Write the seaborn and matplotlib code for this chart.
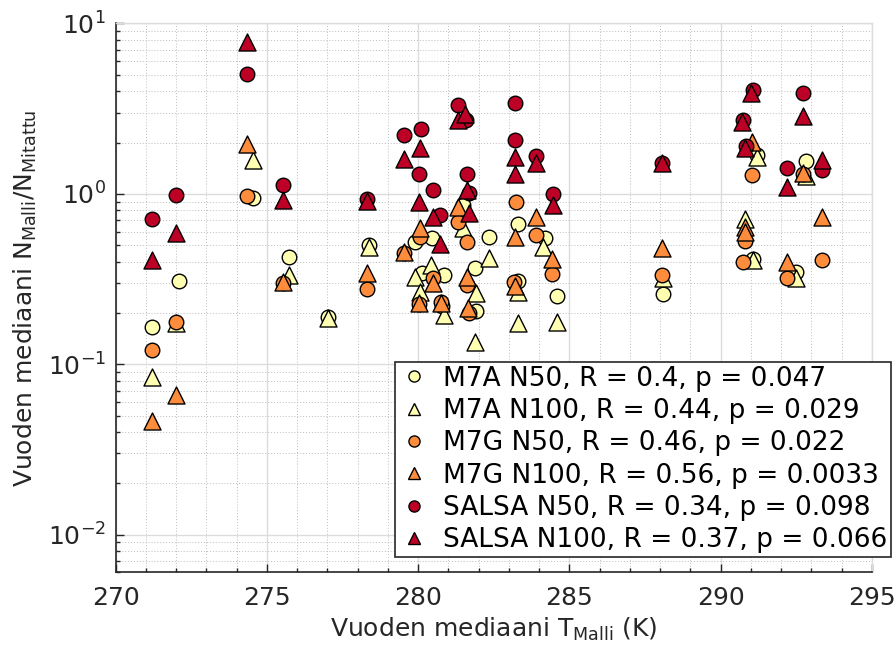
import numpy as np
import pandas as pd
import matplotlib
matplotlib.use("Agg")
import matplotlib.pyplot as plt
from matplotlib.lines import Line2D
from matplotlib.ticker import MultipleLocator, LogLocator, NullFormatter
import seaborn as sns

# --- yearly medians: model temperature (K) and model/measured number ratio ---
m7a_n50_T = [271.22, 272.10, 274.55, 275.74, 277.03, 278.39, 279.90, 280.45, 280.12, 280.86,
             280.80, 281.50, 282.36, 281.88, 281.91, 283.31, 283.30, 284.20, 284.60, 288.10,
             291.08, 292.50, 292.83, 291.20]
m7a_n50_R = [0.165, 0.308, 0.95, 0.428, 0.19, 0.50, 0.524, 0.55, 0.341, 0.334,
             0.22, 0.86, 0.56, 0.366, 0.205, 0.665, 0.307, 0.548, 0.252, 0.257,
             0.413, 0.349, 1.56, 1.70]

m7a_n100_T = [271.22, 272.00, 274.55, 275.74, 277.03, 278.39, 279.90, 280.43, 280.06, 280.85,
              281.49, 282.36, 281.91, 281.88, 283.31, 283.31, 284.14, 284.60, 288.10, 290.81,
              291.08, 291.20, 292.50, 292.83]
m7a_n100_R = [0.0846, 0.175, 1.59, 0.334, 0.186, 0.49, 0.327, 0.383, 0.267, 0.195,
              0.63, 0.418, 0.262, 0.136, 0.174, 0.267, 0.49, 0.178, 0.32, 0.708,
              0.41, 1.65, 0.32, 1.27]

m7g_n50_T = [271.22, 271.99, 274.35, 275.54, 278.30, 279.53, 280.06, 280.04, 280.48, 280.75,
             281.33, 281.63, 281.63, 281.69, 283.24, 283.17, 283.90, 284.42, 288.06, 290.75,
             290.80, 291.05, 292.21, 293.35, 292.72]
m7g_n50_R = [0.122, 0.178, 0.97, 0.298, 0.275, 0.45, 0.56, 0.225, 0.319, 0.232,
             0.686, 0.524, 0.29, 0.199, 0.89, 0.305, 0.573, 0.337, 0.334, 0.40,
             0.529, 1.29, 0.32, 0.409, 1.30]

m7g_n100_T = [271.22, 271.99, 274.35, 275.54, 278.30, 279.53, 280.06, 280.04, 280.48, 280.75,
              281.33, 281.63, 281.66, 283.20, 283.20, 283.90, 284.42, 288.06, 290.80, 290.80,
              291.05, 292.21, 292.72, 293.35]
m7g_n100_R = [0.0467, 0.066, 1.96, 0.305, 0.344, 0.457, 0.628, 0.228, 0.298, 0.228,
              0.84, 0.327, 0.215, 0.56, 0.288, 0.734, 0.413, 0.483, 0.641, 0.60,
              2.02, 0.40, 1.32, 0.734]

salsa_n50_T = [271.22, 271.99, 274.35, 275.54, 278.30, 279.53, 280.09, 280.04, 280.50, 280.72,
               281.33, 281.60, 281.63, 281.70, 283.20, 283.20, 283.90, 284.45, 288.06, 291.08,
               290.75, 290.85, 292.21, 292.72, 293.35]
salsa_n50_R = [0.708, 0.99, 5.02, 1.13, 0.93, 2.21, 2.39, 1.31, 1.06, 0.75,
               3.32, 2.70, 1.30, 1.01, 3.42, 2.07, 1.67, 1.00, 1.51, 4.06,
               2.71, 1.91, 1.41, 3.92, 1.38]

salsa_n100_T = [271.22, 271.99, 274.35, 275.54, 278.30, 279.53, 280.06, 280.04, 280.50, 280.72,
                281.33, 281.55, 281.61, 281.69, 283.20, 283.20, 283.90, 284.45, 288.06, 291.02,
                290.72, 290.80, 292.21, 292.72, 293.35]
salsa_n100_R = [0.409, 0.587, 7.8, 0.92, 0.91, 1.60, 1.85, 0.90, 0.734, 0.51,
                2.71, 2.95, 1.05, 0.769, 1.64, 1.31, 1.51, 0.86, 1.51, 3.90,
                2.65, 1.87, 1.10, 2.86, 1.59]

series_labels = [
    "M7A N50, R = 0.4, p = 0.047",
    "M7A N100, R = 0.44, p = 0.029",
    "M7G N50, R = 0.46, p = 0.022",
    "M7G N100, R = 0.56, p = 0.0033",
    "SALSA N50, R = 0.34, p = 0.098",
    "SALSA N100, R = 0.37, p = 0.066",
]
series_T = [m7a_n50_T, m7a_n100_T, m7g_n50_T, m7g_n100_T, salsa_n50_T, salsa_n100_T]
series_R = [m7a_n50_R, m7a_n100_R, m7g_n50_R, m7g_n100_R, salsa_n50_R, salsa_n100_R]

YELLOW, ORANGE, RED = "#ffffb2", "#fd8d3c", "#bd0026"
series_colors = [YELLOW, YELLOW, ORANGE, ORANGE, RED, RED]
series_markers = ["o", "^", "o", "^", "o", "^"]
marker_area = {"o": 110, "^": 150}

sns.set_style("ticks")
plt.rcParams["font.family"] = ["DejaVu Sans"]
plt.rcParams["mathtext.fontset"] = "dejavusans"
INK = "#262626"

fig = plt.figure(figsize=(8.96, 6.52), dpi=100)
ax = fig.add_axes([0.129, 0.122, 0.844, 0.842])

# one layer per series, in legend order, so later series sit on top
for lab, t, r, c, m in zip(series_labels, series_T, series_R, series_colors, series_markers):
    d = pd.DataFrame({"T": t, "ratio": r})
    sns.scatterplot(data=d, x="T", y="ratio", color=c, marker=m, s=marker_area[m],
                    edgecolor="black", linewidth=1.0, ax=ax, legend=False, zorder=3)

ax.set_yscale("log")
ax.set_xlim(270, 295)
ax.set_ylim(0.006, 10)
ax.xaxis.set_major_locator(MultipleLocator(5))
ax.xaxis.set_minor_locator(MultipleLocator(1))
ax.yaxis.set_major_locator(LogLocator(base=10, numticks=10))
ax.yaxis.set_minor_locator(LogLocator(base=10, subs=np.arange(2, 10), numticks=30))
ax.yaxis.set_minor_formatter(NullFormatter())

ax.set_axisbelow(True)
ax.grid(which="major", color="#dcdcdc", lw=1.0, ls="-")
ax.grid(which="minor", color="#bcbcbc", lw=0.7, ls=(0, (1, 2)))

ax.tick_params(which="both", direction="in", top=False, right=False,
               color=INK, labelcolor=INK, labelsize=18)
ax.tick_params(axis="x", which="major", length=6, width=1, pad=10)
ax.tick_params(axis="y", which="major", length=6, width=1, pad=7)
ax.tick_params(which="minor", length=3, width=1)

for side in ("left", "bottom"):
    ax.spines[side].set_color(INK)
    ax.spines[side].set_linewidth(1.2)
for side in ("top", "right"):
    ax.spines[side].set_color("#dcdcdc")
    ax.spines[side].set_linewidth(1.0)

ax.set_xlabel("Vuoden mediaani T$_{\\mathrm{Malli}}$ (K)", fontsize=18, color=INK, labelpad=4)
ax.set_ylabel("Vuoden mediaani N$_{\\mathrm{Malli}}$/N$_{\\mathrm{Mitattu}}$",
              fontsize=18, color=INK, labelpad=6)

handles = [Line2D([], [], linestyle="", marker=m, markersize=8,
                  markerfacecolor=c, markeredgecolor="black", markeredgewidth=1.0)
           for m, c in zip(series_markers, series_colors)]
leg = ax.legend(handles, series_labels, loc="lower right",
                bbox_to_anchor=(0.9945, 0.146), bbox_transform=fig.transFigure,
                borderaxespad=0, fontsize=19, labelspacing=0.24,
                handlelength=1.2, handletextpad=0.5, borderpad=0.13,
                frameon=True, fancybox=False, framealpha=1, edgecolor=INK)
leg.get_frame().set_linewidth(1.2)
for t in leg.get_texts():
    t.set_color("black")

fig.savefig("out.png", dpi=100)
